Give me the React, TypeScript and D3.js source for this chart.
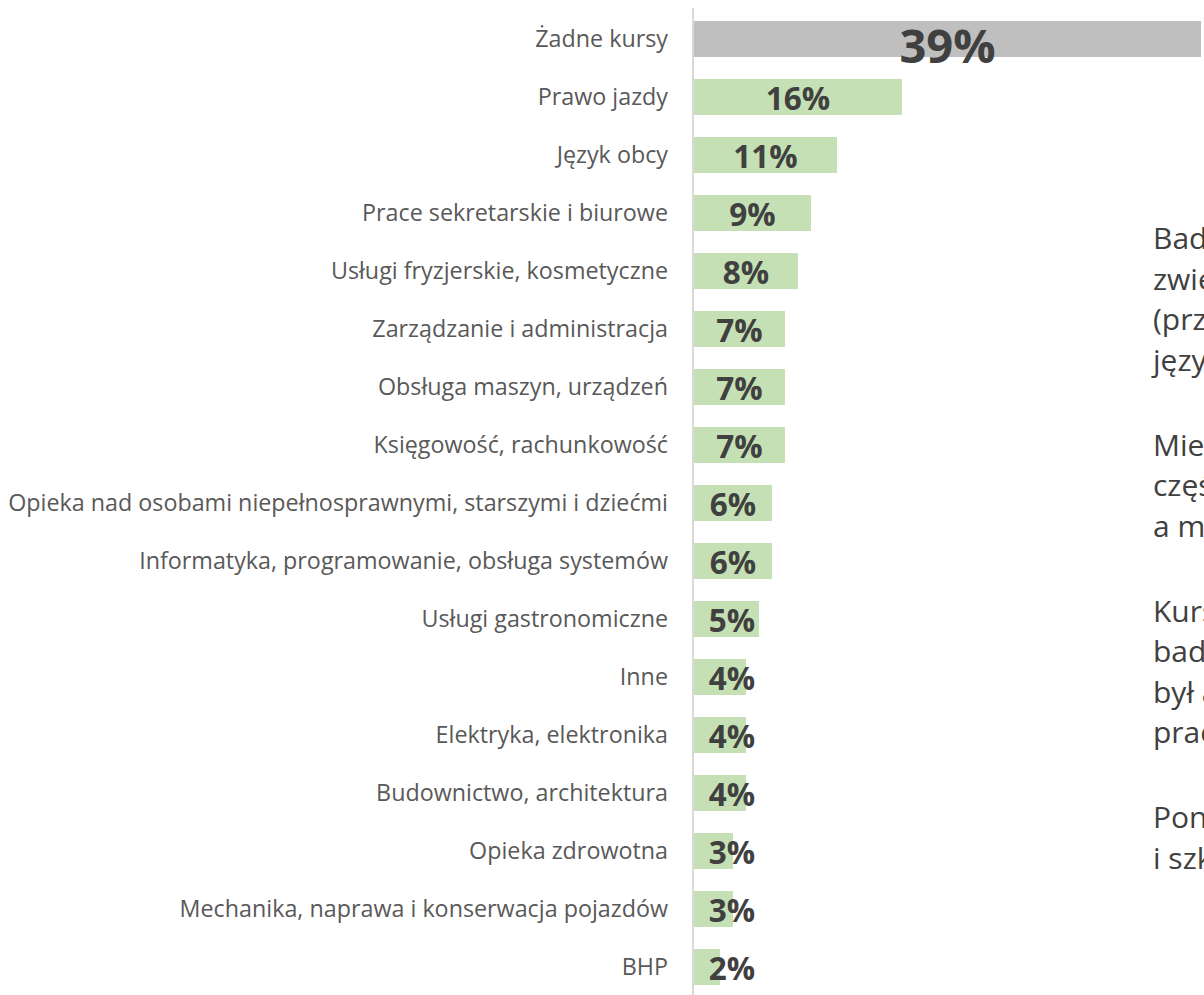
import React, { useEffect, useRef } from 'react';
import * as d3 from 'd3';

// categories (top to bottom) and their shares in %
const categories: string[] = [
  'Żadne kursy',
  'Prawo jazdy',
  'Język obcy',
  'Prace sekretarskie i biurowe',
  'Usługi fryzjerskie, kosmetyczne',
  'Zarządzanie i administracja',
  'Obsługa maszyn, urządzeń',
  'Księgowość, rachunkowość',
  'Opieka nad osobami niepełnosprawnymi, starszymi i dziećmi',
  'Informatyka, programowanie, obsługa systemów',
  'Usługi gastronomiczne',
  'Inne',
  'Elektryka, elektronika',
  'Budownictwo, architektura',
  'Opieka zdrowotna',
  'Mechanika, naprawa i konserwacja pojazdów',
  'BHP',
];

const values: number[] = [39, 16, 11, 9, 8, 7, 7, 7, 6, 6, 5, 4, 4, 4, 3, 3, 2];

// side note (cut off at the right edge of the slide)
const noteParagraphs: string[][] = [
  ['Badani najczęściej', 'zwiększali kwalifikacje', '(przede wszystkim', 'języka obcego).'],
  ['Mieszkańcy miast', 'częściej niż wsi,', 'a mężczyźni częściej.'],
  ['Kursy ukończyło 61%', 'badanych, a ich celem', 'był awans lub zmiana', 'pracy.'],
  ['Ponadto kursy zawodowe', 'i szkolenia BHP.'],
];

const WIDTH = 1204;
const HEIGHT = 995;

const BarChart: React.FC = () => {
  const chartRef = useRef<SVGSVGElement>(null);

  useEffect(() => {
    const svg = d3.select(chartRef.current);
    svg.selectAll('*').remove();
    svg.attr('width', WIDTH).attr('height', HEIGHT);

    const x = d3.scaleLinear().domain([0, 40]).range([694, 1214]);

    const y = d3
      .scaleBand<string>()
      .domain(categories)
      .range([10, 10 + categories.length * 58])
      .paddingInner(0.38)
      .paddingOuter(0.19);

    const data = categories.map((c, i) => ({ name: c, value: values[i], first: i === 0 }));

    // bars
    svg
      .append('g')
      .selectAll('rect')
      .data(data)
      .join('rect')
      .attr('x', x(0))
      .attr('y', (d) => y(d.name) as number)
      .attr('width', (d) => x(d.value) - x(0))
      .attr('height', y.bandwidth())
      .attr('fill', (d) => (d.first ? '#bfbfbf' : '#c5e0b4'));

    // vertical axis line
    svg
      .append('line')
      .attr('x1', 693)
      .attr('x2', 693)
      .attr('y1', 8)
      .attr('y2', HEIGHT)
      .attr('stroke', '#d9d9d9')
      .attr('stroke-width', 2);

    // category labels
    svg
      .append('g')
      .selectAll('text')
      .data(data)
      .join('text')
      .attr('x', 668)
      .attr('y', (d) => (y(d.name) as number) + y.bandwidth() / 2)
      .attr('dy', '0.33em')
      .attr('text-anchor', 'end')
      .attr('font-family', '"Open Sans", sans-serif')
      .attr('font-size', 23.3)
      .attr('fill', '#595959')
      .text((d) => d.name);

    // value labels (centered, but kept clear of the axis on short bars)
    svg
      .append('g')
      .selectAll('text')
      .data(data)
      .join('text')
      .attr('x', (d) => Math.max((x(0) + x(d.value)) / 2, x(0) + 38))
      .attr('y', (d) => (y(d.name) as number) + y.bandwidth() / 2 + (d.first ? 24 : 13))
      .attr('text-anchor', 'middle')
      .attr('font-family', '"Open Sans", sans-serif')
      .attr('font-weight', 700)
      .attr('font-size', (d) => (d.first ? 47 : 31.5))
      .attr('fill', '#404040')
      .text((d) => `${d.value}%`);

    // side note
    const note = svg
      .append('text')
      .attr('font-family', '"Open Sans", sans-serif')
      .attr('font-size', 30)
      .attr('fill', '#404040');
    let baseline = 249;
    noteParagraphs.forEach((para, pi) => {
      if (pi > 0) baseline += 85 - 40.5;
      para.forEach((line, li) => {
        if (pi > 0 || li > 0) baseline += 40.5;
        note.append('tspan').attr('x', 1153).attr('y', baseline).text(line);
      });
    });
  }, []);

  return <svg ref={chartRef} style={{ display: 'block' }}></svg>;
};

export default function App() {
  return (
    <div style={{ position: 'absolute', left: 0, top: 0, background: '#fff' }}>
      <BarChart />
    </div>
  );
}
